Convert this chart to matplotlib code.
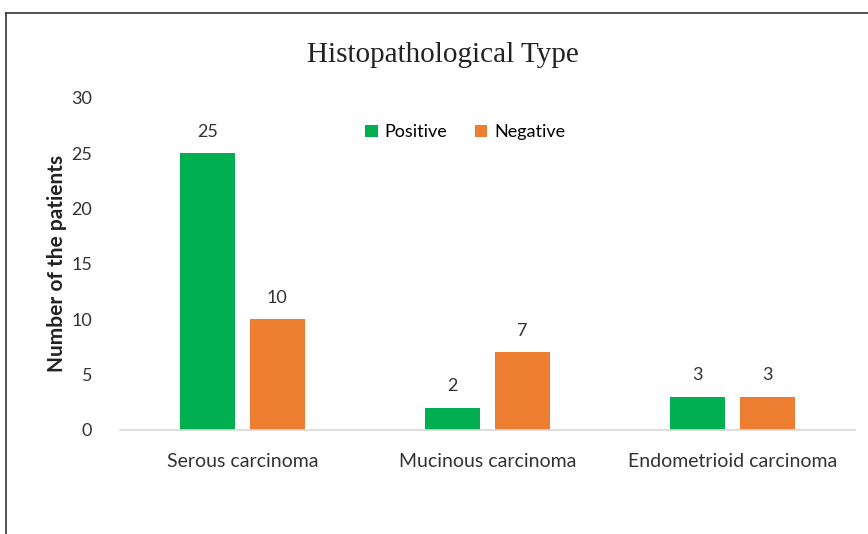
import numpy as np
import matplotlib.pyplot as plt
from matplotlib.lines import Line2D

# Dados do gráfico
categorias = ["Serous carcinoma", "Mucinous carcinoma", "Endometrioid carcinoma"]
positivo = [25, 2, 3]
negativo = [10, 7, 3]

fig = plt.figure(figsize=(8.68, 5.34), dpi=100)
ax = fig.add_axes([0.138, 0.195, 0.847, 0.6215])

x = np.arange(len(categorias))
largura = 0.224
desloc = 0.143

b1 = ax.bar(x - desloc, positivo, largura, color='#00B050', label='Positive')
b2 = ax.bar(x + desloc, negativo, largura, color='#ED7D31', label='Negative')

# Valores em cima das barras
for barras, vals in [(b1, positivo), (b2, negativo)]:
    for b, v in zip(barras, vals):
        ax.text(b.get_x() + b.get_width() / 2, v + 1.2, str(v),
                ha='center', va='bottom', fontsize=13, family='Lato', color='#333333')

ax.set_xlim(-0.5, 2.5)
ax.set_ylim(0, 30)
ax.set_yticks(range(0, 31, 5))
ax.set_xticks(x)
ax.set_xticklabels(categorias, fontsize=14, family='Lato', color='#333333')
ax.tick_params(axis='y', labelsize=13, labelcolor='#333333', length=0, pad=20)
ax.tick_params(axis='x', length=0, pad=17)
for lbl in ax.get_yticklabels():
    lbl.set_family('Lato')

for s in ['top', 'right', 'left']:
    ax.spines[s].set_visible(False)
ax.spines['bottom'].set_color('#d9d9d9')
ax.spines['bottom'].set_linewidth(1.2)

ax.set_ylabel("Number of the patients", fontsize=15, family='Lato',
              fontweight='bold', color='#222222', labelpad=3)

fig.text(0.51, 0.897, "Histopathological Type", ha='center', va='center',
         fontsize=21, family='Liberation Serif', color='#222222')

ax.legend(loc='upper center', bbox_to_anchor=(0.47, 0.97), ncol=2, frameon=False,
          prop={'family': 'Lato', 'size': 13}, handlelength=0.7, handleheight=0.7,
          columnspacing=1.5, handletextpad=0.4)

# Moldura (topo e esquerda)
fig.add_artist(Line2D([6 / 868, 6 / 868], [0, 1 - 13 / 534], color='#333333', lw=1.2))
fig.add_artist(Line2D([6 / 868, 1], [1 - 13 / 534, 1 - 13 / 534], color='#333333', lw=1.2))

fig.savefig('out.png', dpi=100)
